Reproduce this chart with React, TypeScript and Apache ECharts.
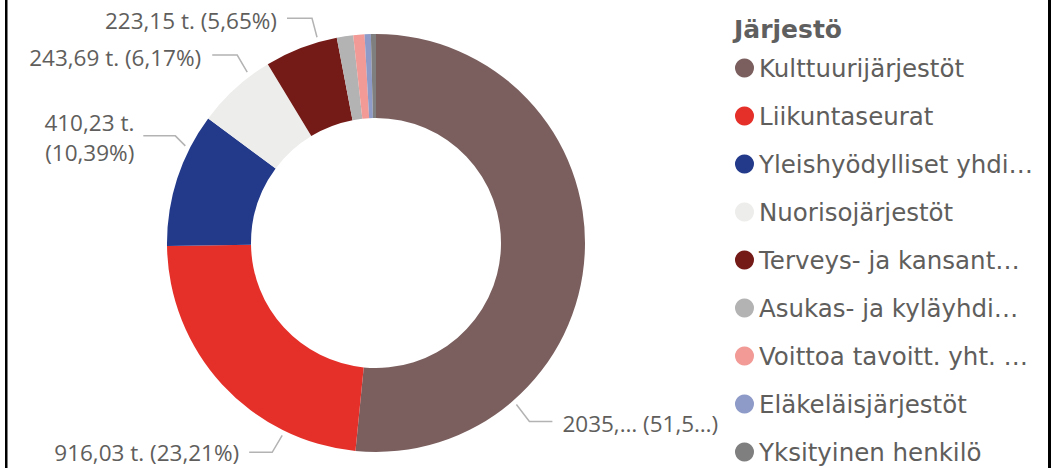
import React, { useEffect, useRef } from "react";
import * as echarts from "echarts";

// ---- data ----
const categories = [
  "Kulttuurijärjestöt",
  "Liikuntaseurat",
  "Yleishyödylliset yhdi…",
  "Nuorisojärjestöt",
  "Terveys- ja kansant…",
  "Asukas- ja kyläyhdi…",
  "Voittoa tavoitt. yht. …",
  "Eläkeläisjärjestöt",
  "Yksityinen henkilö",
];
const values = [2035.5, 916.03, 410.23, 243.69, 223.15, 50, 34.2, 19, 15.5];
const colors = [
  "#7B5F5F",
  "#E5302A",
  "#233A8B",
  "#EDEDEB",
  "#741A17",
  "#B3B3B3",
  "#F19A96",
  "#8E9AC7",
  "#7F7F7F",
];
const legendTitle = "Järjestö";
const unit = "t.";

// ---- layout (not data) ----
const CX = 376;
const CY = 243;
const R_IN = 125;
const R_OUT = 209;
const R_ANCHOR = 214;
type Guide = {
  angle: number;
  dx1: number;
  dy1: number;
  dx2: number;
  gap: number;
  dyText: number;
  align: "left" | "right";
  wrap?: boolean;
  truncate?: boolean;
};
const labelGuides: (Guide | null)[] = [
  { angle: 139, dx1: 13, dy1: 17, dx2: 23, gap: 10, dyText: 2, align: "left", truncate: true },
  { angle: 206, dx1: -10, dy1: 17, dx2: -23, gap: 10, dyText: 0, align: "right" },
  { angle: 297, dx1: -10, dy1: -10, dx2: -32, gap: 9, dyText: 2, align: "right", wrap: true },
  { angle: 323, dx1: -10, dy1: -17, dx2: -25, gap: 11, dyText: 2, align: "right" },
  { angle: 344, dx1: -5, dy1: -19, dx2: -25, gap: 10, dyText: 2, align: "right" },
  null,
  null,
  null,
  null,
];

const fmt = (n: number) => n.toFixed(2).replace(".", ",");

export default function App() {
  const ref = useRef<HTMLDivElement>(null);
  useEffect(() => {
    document.body.style.margin = "0";
    if (!ref.current) return;
    const chart = echarts.init(ref.current, undefined, { renderer: "svg" });
    const data = categories.map((name, i) => {
      const g = labelGuides[i];
      return {
        name,
        value: values[i],
        itemStyle: { color: colors[i] },
        label: { show: !!g, lineHeight: g && g.wrap ? 30 : 22 },
        labelLine: { show: !!g },
      };
    });
    chart.setOption({
      animation: false,
      title: {
        text: legendTitle,
        left: 734,
        top: 17,
        padding: 0,
        textStyle: {
          fontFamily: "DejaVu Sans",
          fontWeight: "bold",
          fontSize: 25,
          color: "#5F5F5F",
        },
      },
      legend: {
        orient: "vertical",
        left: 735,
        top: 54,
        padding: 0,
        icon: "circle",
        itemWidth: 19,
        itemHeight: 19,
        itemGap: 20,
        selectedMode: false,
        data: categories,
        textStyle: {
          fontFamily: "DejaVu Sans",
          fontSize: 24.5,
          lineHeight: 28,
          color: "#605E5C",
        },
      },
      graphic: [
        { type: "rect", shape: { x: 5, y: 0, width: 2.5, height: 468 }, style: { fill: "#000" } },
        { type: "rect", shape: { x: 1048, y: 0, width: 3, height: 468 }, style: { fill: "#000" } },
      ],
      series: [
        {
          type: "pie",
          center: [CX, CY],
          radius: [R_IN, R_OUT],
          startAngle: 90,
          clockwise: true,
          avoidLabelOverlap: false,
          emphasis: { disabled: true },
          itemStyle: { borderWidth: 0 },
          label: {
            position: "outside",
            fontFamily: "Open Sans",
            fontSize: 22.5,
            lineHeight: 22,
            color: "#605E5C",
            formatter: (p: any) => {
              const g = labelGuides[p.dataIndex];
              if (!g) return "";
              const v = fmt(p.value);
              const pc = fmt(p.percent);
              if (g.truncate) {
                return `${v.split(",")[0]},… (${pc.slice(0, 4)}…)`;
              }
              return `${v} ${unit}${g.wrap ? "\n" : " "}(${pc}%)`;
            },
          },
          labelLine: {
            show: true,
            lineStyle: { color: "#B3B3B3", width: 1.5 },
          },
          labelLayout: (p: any) => {
            const g = labelGuides[p.dataIndex];
            if (!g) return {};
            const a = (g.angle * Math.PI) / 180;
            const ax = CX + R_ANCHOR * Math.sin(a);
            const ay = CY - R_ANCHOR * Math.cos(a);
            const ex = ax + g.dx1;
            const ey = ay + g.dy1;
            const fx = ex + g.dx2;
            const tx = g.align === "left" ? fx + g.gap : fx - g.gap;
            return {
              x: tx,
              y: ey + g.dyText,
              align: g.align,
              verticalAlign: "middle",
              labelLinePoints: [
                [ax, ay],
                [ex, ey],
                [fx, ey],
              ],
            };
          },
          data,
        },
      ],
    });
    return () => chart.dispose();
  }, []);
  return <div ref={ref} style={{ width: 1051, height: 468 }} />;
}
